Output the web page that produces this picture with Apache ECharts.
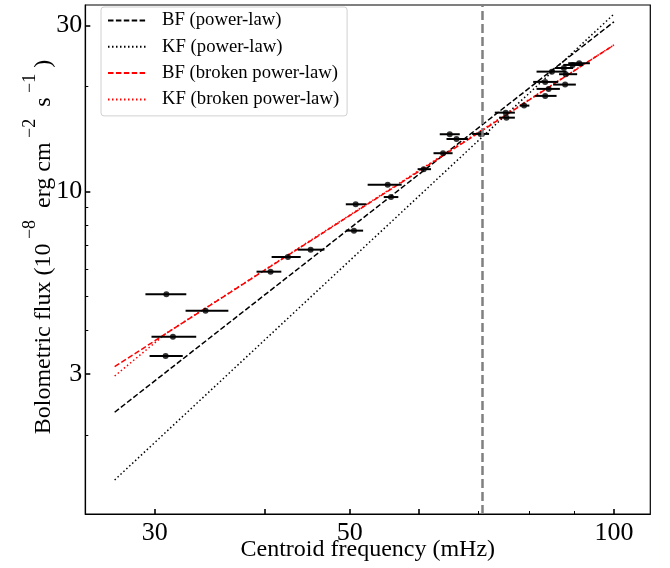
<!DOCTYPE html>
<html><head><meta charset="utf-8">
<script src="https://cdn.jsdelivr.net/npm/echarts@6/dist/echarts.min.js"></script>
<style>html,body{margin:0;padding:0;background:#fff}#c{width:670px;height:568px}</style>
</head><body><div id="c"></div>
<script>
// Observed points: centroid frequency (mHz), error-bar range, bolometric flux (1e-8 erg/cm2/s)
const freq   = [30.92, 34.27, 31.46, 30.86, 40.64, 42.53, 45.14, 50.57, 50.80, 55.73, 55.25, 60.72, 63.88, 65.01, 66.17, 70.47, 75.30, 75.43, 79.00, 83.50, 84.25, 87.98, 83.50, 84.98, 88.14, 87.70, 89.73, 91.28];
const freqLo = [29.27, 32.52, 29.74, 29.59, 39.17, 40.75, 43.63, 49.50, 49.50, 54.68, 52.42, 59.76, 62.30, 63.33, 64.46, 68.93, 73.16, 73.99, 78.10, 81.27, 81.63, 85.27, 80.91, 81.63, 86.60, 85.65, 87.55, 88.70];
const freqHi = [32.58, 36.38, 33.44, 32.28, 41.80, 43.98, 46.80, 51.80, 52.25, 56.81, 57.31, 61.90, 65.50, 66.74, 68.22, 72.07, 77.12, 77.12, 80.10, 86.03, 86.78, 90.49, 86.40, 88.30, 90.80, 89.86, 92.26, 93.89];
const flux   = [5.08, 4.556, 3.837, 3.379, 5.895, 6.496, 6.818, 7.73, 9.20, 9.65, 10.47, 11.6, 12.89, 14.61, 14.16, 14.64, 16.85, 16.30, 17.65, 18.82, 19.71, 20.28, 20.64, 22.09, 21.72, 22.63, 23.09, 23.35];

// Model curves (read at their end / break points)
const bfPLFreq  = [27, 100];       const bfPLFlux  = [2.33, 30.7];
const kfPLFreq  = [27, 100];       const kfPLFlux  = [1.49, 32.3];
const bfBPLFreq = [27, 70, 100];   const bfBPLFlux = [3.15, 14.7, 26.35];
const kfBPLFreq = [27, 30.94, 100]; const kfBPLFlux = [2.96, 3.93, 26.35];

const seriesNames = ['BF (power-law)', 'KF (power-law)', 'BF (broken power-law)', 'KF (broken power-law)'];
const breakFreq = 70;

const xMajorTicks = [30, 40, 50, 60, 100];
const xMinorTicks = [70, 80, 90];
const xTickLabels = ['30', '50', '100'];
const yMajorTicks = [3, 10, 30];
const yMinorTicks = [2, 4, 5, 6, 7, 8, 9, 20];
const yTickLabels = ['3', '10', '30'];
const xRange = [25, 110];
const yRange = [1.19, 34.3];

const L = Math.log10;
const FONT = '"Liberation Serif", "Times New Roman", serif';
const pairs = (xs, ys) => xs.map((x, i) => [L(x), L(ys[i])]);
const fmt = (labels) => (v) => {
  let best = labels[0], d = Infinity;
  labels.forEach(s => { const dd = Math.abs(L(parseFloat(s)) - v); if (dd < d) { d = dd; best = s; } });
  return best;
};

const baseX = { type: 'value', min: L(xRange[0]), max: L(xRange[1]), position: 'bottom', splitLine: { show: false } };
const baseY = { type: 'value', min: L(yRange[0]), max: L(yRange[1]), position: 'left', splitLine: { show: false } };

const chart = echarts.init(document.getElementById('c'), null, { renderer: 'canvas' });
chart.setOption({
  animation: false,
  backgroundColor: '#fff',
  grid: { left: 85.3, right: 19.7, top: 5, bottom: 54, show: true, borderColor: '#000', borderWidth: 1.2, containLabel: false, outerBoundsMode: 'none' },
  xAxis: [
    Object.assign({}, baseX, {
      axisLine: { show: true, onZero: false, lineStyle: { color: '#000', width: 1.2 } },
      axisTick: { show: true, inside: true, length: 5, lineStyle: { color: '#000', width: 1.6 }, customValues: xMajorTicks.map(L) },
      axisLabel: { show: true, margin: 6, color: '#000', fontFamily: FONT, fontSize: 26, customValues: xTickLabels.map(s => L(parseFloat(s))), formatter: fmt(xTickLabels) },
      name: 'Centroid frequency (mHz)', nameLocation: 'middle', nameGap: 24, nameMoveOverlap: false,
      nameTextStyle: { color: '#000', fontFamily: FONT, fontSize: 24 }
    }),
    Object.assign({}, baseX, {
      axisLine: { show: false, onZero: false },
      axisTick: { show: true, inside: true, length: 3, lineStyle: { color: '#000', width: 1 }, customValues: xMinorTicks.map(L) },
      axisLabel: { show: false }
    })
  ],
  yAxis: [
    Object.assign({}, baseY, {
      axisLine: { show: true, onZero: false, lineStyle: { color: '#000', width: 1.2 } },
      axisTick: { show: true, inside: true, length: 5, lineStyle: { color: '#000', width: 1.6 }, customValues: yMajorTicks.map(L) },
      axisLabel: { show: true, margin: 3, color: '#000', fontFamily: FONT, fontSize: 26, customValues: yTickLabels.map(s => L(parseFloat(s))), formatter: fmt(yTickLabels) },
      name: '{n|Bolometric flux (10}{s| −8}{n|  erg cm}{s| −2}{n|  s}{s| −1}{n| )}',
      nameLocation: 'middle', nameGap: 30, nameRotate: 90, nameMoveOverlap: false,
      nameTextStyle: {
        padding: [0, 0, 0, 25],
        rich: {
          n: { color: '#000', fontFamily: FONT, fontSize: 24, lineHeight: 34, verticalAlign: 'bottom' },
          s: { color: '#000', fontFamily: FONT, fontSize: 18, lineHeight: 34, verticalAlign: 'top' }
        }
      }
    }),
    Object.assign({}, baseY, {
      axisLine: { show: false, onZero: false },
      axisTick: { show: true, inside: true, length: 3, lineStyle: { color: '#000', width: 1 }, customValues: yMinorTicks.map(L) },
      axisLabel: { show: false }
    })
  ],
  legend: {
    data: seriesNames,
    orient: 'vertical', left: 101, top: 7,
    itemWidth: 38, itemHeight: 14, itemGap: 7.3,
    padding: [4, 8, 7, 6],
    itemStyle: { opacity: 0 },
    backgroundColor: 'rgba(255,255,255,0.8)', borderColor: '#d0d0d0', borderWidth: 1, borderRadius: 3,
    textStyle: { color: '#000', fontFamily: FONT, fontSize: 18.7, lineHeight: 19, padding: [0, 0, 0, 11] }
  },
  series: [
    { name: seriesNames[0], type: 'line', data: pairs(bfPLFreq, bfPLFlux), symbol: 'none', lineStyle: { color: '#000', width: 1.5, type: [5.5, 2.4] }, itemStyle: { color: '#000' }, z: 2 },
    { name: seriesNames[1], type: 'line', data: pairs(kfPLFreq, kfPLFlux), symbol: 'none', lineStyle: { color: '#000', width: 1.5, type: [1.5, 2.5] }, itemStyle: { color: '#000' }, z: 2 },
    { name: seriesNames[2], type: 'line', data: pairs(bfBPLFreq, bfBPLFlux), symbol: 'none', lineStyle: { color: '#ff0000', width: 1.5, type: [5.5, 2.4] }, itemStyle: { color: '#ff0000' }, z: 2 },
    { name: seriesNames[3], type: 'line', data: pairs(kfBPLFreq, kfBPLFlux), symbol: 'none', lineStyle: { color: '#ff0000', width: 1.5, type: [1.5, 2.5] }, itemStyle: { color: '#ff0000' }, z: 2 },
    {
      name: 'break', type: 'line', data: [], symbol: 'none', silent: true,
      markLine: { silent: true, symbol: ['none', 'none'], label: { show: false },
        lineStyle: { color: '#808080', width: 2.5, type: [9, 4] },
        data: [{ xAxis: L(breakFreq) }] }, z: 1
    },
    {
      name: 'xerr', type: 'custom', z: 3,
      data: freq.map((f, i) => [L(freqLo[i]), L(freqHi[i]), L(flux[i])]),
      renderItem: (params, api) => {
        const a = api.coord([api.value(0), api.value(2)]);
        const b = api.coord([api.value(1), api.value(2)]);
        return { type: 'line', shape: { x1: a[0], y1: a[1], x2: b[0], y2: b[1] }, style: { stroke: '#000', lineWidth: 2 } };
      }
    },
    { name: 'data', type: 'scatter', data: pairs(freq, flux), symbol: 'circle', symbolSize: 6, itemStyle: { color: '#000' }, z: 4 }
  ]
});
</script></body></html>
